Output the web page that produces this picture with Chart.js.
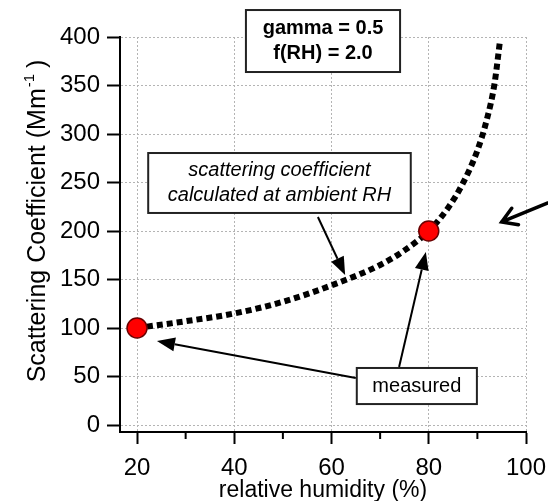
<!DOCTYPE html>
<html>
<head>
<meta charset="utf-8">
<script src="https://cdn.jsdelivr.net/npm/chart.js@4.4.1/dist/chart.umd.min.js"></script>
<style>
  body { margin: 0; background: #fff; }
  #wrap { width: 548px; height: 501px; position: relative; }
</style>
</head>
<body>
<div id="wrap"><canvas id="chart"></canvas></div>
<script>
// axis ticks
const xTicks = [20, 40, 60, 80, 100];
const xMinorTicks = [30, 50, 70, 90];
const yTicks = [0, 50, 100, 150, 200, 250, 300, 350, 400];

// dotted curve, scattering at ambient RH
const curveRH = [20, 30, 40, 50, 60, 70, 75, 80, 84, 87, 90, 92, 93.5, 94.6];
const curveScat = [100, 107, 115, 127, 144, 165, 180, 200, 224, 249, 283, 316, 351, 394];

// the two measured points
const measuredRH = [20, 80];
const measuredScat = [100, 200];

const FONT = '"Liberation Sans", Arial, sans-serif';
Chart.defaults.font.family = FONT;
Chart.defaults.color = '#000';

// annotation boxes / arrows, given in axis units
const boxes = [
  { lines: ['gamma = 0.5', 'f(RH) = 2.0'], font: 'bold 20px ' + FONT, x0: 42.4, x1: 74.1, y0: 427.8, y1: 363.9 },
  { lines: ['scattering coefficient', 'calculated at ambient RH'], font: 'italic 20px ' + FONT, x0: 22.3, x1: 76.3, y0: 280.4, y1: 218.6 },
  { lines: ['measured'], font: '20px ' + FONT, x0: 65.2, x1: 89.9, y0: 58.8, y1: 21.6 }
];
const arrows = [
  { from: [57.2, 214.4], to: [62.8, 154.6], open: false },
  { from: [65.0, 48.5], to: [24.1, 86.6], open: false },
  { from: [73.9, 59.8], to: [79.4, 178.4], open: false },
  { from: [104.5, 228.9], to: [95.0, 209.3], open: true }
];

const annotations = {
  id: 'annotations',
  afterDatasetsDraw(chart) {
    const { ctx, scales: { x, y } } = chart;
    ctx.save();

    // minor ticks on the x axis
    ctx.strokeStyle = '#000';
    ctx.lineWidth = 2;
    xMinorTicks.forEach(v => {
      const px = x.getPixelForValue(v);
      ctx.beginPath();
      ctx.moveTo(px, x.top);
      ctx.lineTo(px, x.top + 7);
      ctx.stroke();
    });

    // arrows
    arrows.forEach(a => {
      const x1 = x.getPixelForValue(a.from[0]), y1 = y.getPixelForValue(a.from[1]);
      const x2 = x.getPixelForValue(a.to[0]), y2 = y.getPixelForValue(a.to[1]);
      const ang = Math.atan2(y2 - y1, x2 - x1);
      ctx.strokeStyle = '#000';
      ctx.fillStyle = '#000';
      if (a.open) {
        ctx.lineWidth = 3.5;
        ctx.lineCap = 'round';
        ctx.beginPath();
        ctx.moveTo(x1, y1);
        ctx.lineTo(x2, y2);
        ctx.moveTo(x2 - 17 * Math.cos(ang - 0.55), y2 - 17 * Math.sin(ang - 0.55));
        ctx.lineTo(x2, y2);
        ctx.lineTo(x2 - 17 * Math.cos(ang + 0.55), y2 - 17 * Math.sin(ang + 0.55));
        ctx.stroke();
      } else {
        const len = 18, half = 7;
        const bx = x2 - len * Math.cos(ang), by = y2 - len * Math.sin(ang);
        ctx.lineWidth = 2;
        ctx.lineCap = 'butt';
        ctx.beginPath();
        ctx.moveTo(x1, y1);
        ctx.lineTo(bx, by);
        ctx.stroke();
        ctx.beginPath();
        ctx.moveTo(x2, y2);
        ctx.lineTo(bx + half * Math.sin(ang), by - half * Math.cos(ang));
        ctx.lineTo(bx - half * Math.sin(ang), by + half * Math.cos(ang));
        ctx.closePath();
        ctx.fill();
      }
    });

    // text boxes
    boxes.forEach(b => {
      const left = x.getPixelForValue(b.x0), right = x.getPixelForValue(b.x1);
      const top = y.getPixelForValue(b.y0), bottom = y.getPixelForValue(b.y1);
      ctx.fillStyle = '#fff';
      ctx.fillRect(left, top, right - left, bottom - top);
      ctx.strokeStyle = '#222';
      ctx.lineWidth = 2;
      ctx.strokeRect(left, top, right - left, bottom - top);
      ctx.fillStyle = '#000';
      ctx.font = b.font;
      ctx.textAlign = 'center';
      ctx.textBaseline = 'middle';
      const cx = (left + right) / 2, cy = (top + bottom) / 2;
      const gap = 25;
      b.lines.forEach((t, i) => {
        ctx.fillText(t, cx, cy + (i - (b.lines.length - 1) / 2) * gap);
      });
    });

    // y axis title with superscript
    ctx.translate(45, 221);
    ctx.rotate(-Math.PI / 2);
    ctx.textBaseline = 'alphabetic';
    ctx.textAlign = 'left';
    const main = 'Scattering Coefficient (Mm', sup = '-1', tail = ' )';
    ctx.font = '25px ' + FONT;
    const wMain = ctx.measureText(main).width, wTail = ctx.measureText(tail).width;
    ctx.font = '15px ' + FONT;
    const wSup = ctx.measureText(sup).width;
    let sx = -(wMain + wSup + wTail) / 2;
    ctx.font = '25px ' + FONT;
    ctx.fillText(main, sx, 0);
    sx += wMain;
    ctx.font = '15px ' + FONT;
    ctx.fillText(sup, sx + 1, -11);
    sx += wSup;
    ctx.font = '25px ' + FONT;
    ctx.fillText(tail, sx, 0);

    ctx.restore();
  }
};

new Chart(document.getElementById('chart'), {
  type: 'line',
  data: {
    datasets: [
      {
        label: 'measured',
        type: 'scatter',
        data: measuredRH.map((v, i) => ({ x: v, y: measuredScat[i] })),
        pointRadius: 10,
        pointBackgroundColor: '#ff0000',
        pointBorderColor: '#6a0000',
        pointBorderWidth: 1.5,
        showLine: false,
        order: 0,
        clip: false
      },
      {
        label: 'calculated',
        data: curveRH.map((v, i) => ({ x: v, y: curveScat[i] })),
        borderColor: '#000',
        borderWidth: 6,
        borderDash: [6, 4],
        borderCapStyle: 'butt',
        pointRadius: 0,
        tension: 0.4,
        cubicInterpolationMode: 'monotone',
        fill: false,
        order: 1,
        clip: false
      }
    ]
  },
  options: {
    responsive: true,
    maintainAspectRatio: false,
    animation: false,
    layout: { padding: { top: 37, right: 22, left: 0, bottom: 0 } },
    plugins: {
      legend: { display: false },
      tooltip: { enabled: false }
    },
    scales: {
      x: {
        type: 'linear',
        min: 16.5,
        max: 100,
        afterBuildTicks: s => { s.ticks = xTicks.map(v => ({ value: v })); },
        afterFit: s => { s.height = 69; s.paddingLeft = 0; s.paddingRight = 0; },
        ticks: { font: { size: 24 }, color: '#000', padding: 10, maxRotation: 0, autoSkip: false },
        grid: { color: '#b4b4b4', lineWidth: 1, tickLength: 12, tickWidth: 2, tickColor: '#000' },
        border: { color: '#000', width: 2, dash: [2, 2] },
        title: { display: true, text: 'relative humidity (%)', font: { size: 23 }, color: '#000', padding: { top: 0, bottom: -3 } }
      },
      y: {
        type: 'linear',
        min: -7.2,
        max: 400,
        afterBuildTicks: s => { s.ticks = yTicks.map(v => ({ value: v })); },
        afterFit: s => { s.width = 120; s.paddingTop = 0; s.paddingBottom = 0; },
        ticks: { font: { size: 24 }, color: '#000', padding: 7 },
        grid: { color: '#b4b4b4', lineWidth: 1, tickLength: 13, tickWidth: 2, tickColor: '#000' },
        border: { color: '#000', width: 2, dash: [2, 2] }
      }
    }
  },
  plugins: [annotations]
});
</script>
</body>
</html>
